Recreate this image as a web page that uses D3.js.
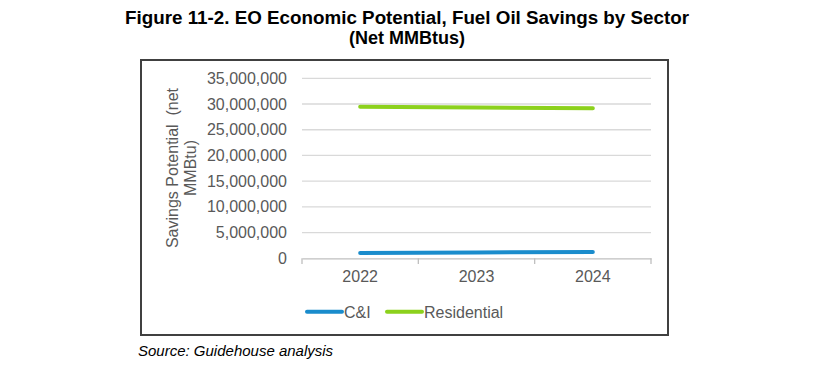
<!DOCTYPE html>
<html>
<head>
<meta charset="utf-8">
<script src="https://cdn.jsdelivr.net/npm/d3@7"></script>
<style>
  html, body { margin: 0; padding: 0; background: #fff; }
  svg { display: block; font-family: "Liberation Sans", Arial, sans-serif; }
</style>
</head>
<body>
<svg id="chart" width="817" height="369"></svg>
<script>
const years = ["2022", "2023", "2024"];
const ciValues = [1030000, 1150000, 1220000];
const residentialValues = [29480000, 29300000, 29170000];
const yTicks = [0, 5000000, 10000000, 15000000, 20000000, 25000000, 30000000, 35000000];
const seriesNames = ["C&I", "Residential"];
const seriesColors = ["#1a8ccc", "#8cd11c"];

const series = [
  { name: seriesNames[0], values: ciValues, color: seriesColors[0] },
  { name: seriesNames[1], values: residentialValues, color: seriesColors[1] }
];

const svg = d3.select("#chart");

// Title
const title = svg.append("text")
  .attr("text-anchor", "middle")
  .attr("font-weight", "bold")
  .attr("font-size", 18)
  .attr("fill", "#000");
title.append("tspan").attr("x", 407).attr("y", 24)
  .attr("textLength", 564).attr("lengthAdjust", "spacingAndGlyphs")
  .text("Figure 11-2. EO Economic Potential, Fuel Oil Savings by Sector");
title.append("tspan").attr("x", 407).attr("y", 44)
  .text("(Net MMBtus)");

// Frame
svg.append("rect")
  .attr("x", 141).attr("y", 60)
  .attr("width", 527).attr("height", 275)
  .attr("fill", "none")
  .attr("stroke", "#404040")
  .attr("stroke-width", 2);

const x = d3.scaleBand().domain(years).range([302, 651]);
const y = d3.scaleLinear().domain([0, 35000000]).range([258.3, 78.3]);

// Gridlines
svg.append("g")
  .selectAll("line")
  .data(yTicks.filter(d => d > 0))
  .join("line")
  .attr("x1", 302).attr("x2", 651)
  .attr("y1", d => y(d)).attr("y2", d => y(d))
  .attr("stroke", "#d9d9d9")
  .attr("stroke-width", 1.3);

// Y axis labels
const yAxis = d3.axisLeft(y)
  .tickValues(yTicks)
  .tickFormat(d3.format(","))
  .tickSize(0)
  .tickPadding(15);
const yg = svg.append("g").attr("transform", "translate(302,0)").call(yAxis);
yg.select(".domain").remove();
yg.selectAll("text")
  .attr("font-size", 16)
  .attr("fill", "#595959")
  .attr("font-family", "Liberation Sans, Arial, sans-serif");

// X axis
const xAxis = d3.axisBottom(x).tickSize(0).tickPadding(12);
const xg = svg.append("g").attr("transform", "translate(0,258.3)").call(xAxis);
xg.select(".domain").attr("stroke", "#bfbfbf").attr("stroke-width", 1.3);
xg.selectAll("text")
  .attr("font-size", 16)
  .attr("fill", "#595959")
  .attr("font-family", "Liberation Sans, Arial, sans-serif");
// category boundary tick marks
const bounds = years.map(d => x(d)).concat([x(years[years.length - 1]) + x.bandwidth()]);
svg.append("g").selectAll("line")
  .data(bounds)
  .join("line")
  .attr("x1", d => d).attr("x2", d => d)
  .attr("y1", 258.3).attr("y2", 264)
  .attr("stroke", "#bfbfbf")
  .attr("stroke-width", 1.3);

// Y axis title
const yt = svg.append("text")
  .attr("transform", "translate(0,168) rotate(-90)")
  .attr("text-anchor", "middle")
  .attr("font-size", 16)
  .attr("fill", "#595959");
yt.append("tspan").attr("x", 0).attr("y", 178).text("Savings Potential\u00a0 (net");
yt.append("tspan").attr("x", 0).attr("y", 196).text("MMBtu)");

// Lines
const line = d3.line()
  .x((d, i) => x(years[i]) + x.bandwidth() / 2)
  .y(d => y(d));
svg.append("g").selectAll("path")
  .data(series)
  .join("path")
  .attr("d", d => line(d.values))
  .attr("fill", "none")
  .attr("stroke", d => d.color)
  .attr("stroke-width", 4)
  .attr("stroke-linecap", "round")
  .attr("stroke-linejoin", "round");

// Legend
const legendX = [307, 387];
const lg = svg.append("g").selectAll("g")
  .data(series)
  .join("g")
  .attr("transform", (d, i) => `translate(${legendX[i]},311.7)`);
lg.append("line")
  .attr("x1", 0).attr("x2", 35)
  .attr("y1", 0).attr("y2", 0)
  .attr("stroke", d => d.color)
  .attr("stroke-width", 4)
  .attr("stroke-linecap", "round");
lg.append("text")
  .attr("x", 37).attr("y", 6)
  .attr("font-size", 16)
  .attr("fill", "#595959")
  .text(d => d.name);

// Source
svg.append("text")
  .attr("x", 138).attr("y", 356)
  .attr("font-size", 15)
  .attr("font-style", "italic")
  .attr("fill", "#000")
  .text("Source: Guidehouse analysis");
</script>
</body>
</html>
